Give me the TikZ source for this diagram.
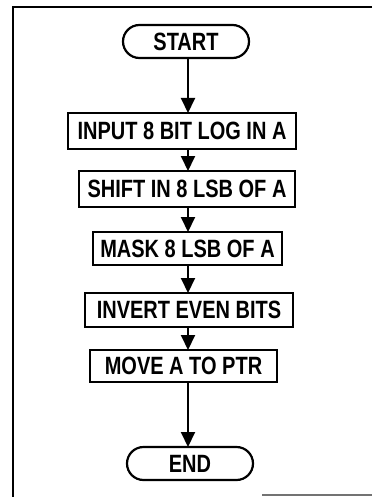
\documentclass[tikz,border=0pt]{standalone}
\usepackage{fontspec}
\setmainfont{Liberation Sans}
\newfontfamily\flowfont[FakeStretch=0.8]{Liberation Sans Bold}
\usetikzlibrary{arrows.meta,shapes.misc}
\begin{document}
\begin{tikzpicture}[x=1pt,y=-1pt,
  every node/.style={inner sep=0pt,outer sep=0pt,font=\flowfont\fontsize{25}{25}\selectfont},
  proc/.style={draw,line width=2.2pt,rectangle},
  term/.style={draw,line width=2.2pt,rounded rectangle,minimum width=126pt,minimum height=33pt},
  arr/.style={line width=2pt,-{Triangle[length=15pt,width=14pt]}},
  frame/.style={line width=2pt}]
\useasboundingbox (0,0) rectangle (372,497);
\draw[frame] (372,7) -- (13,7) -- (13,497);
\draw[frame,black!55] (262,495) -- (372,495);
\node[term] (start) at (186,41.5) {START};
\node[proc,minimum width=228pt,minimum height=36pt] (input) at (182,131) {INPUT 8 BIT LOG IN A};
\node[proc,minimum width=216pt,minimum height=36pt] (shift) at (187,189) {SHIFT IN 8 LSB OF A};
\node[proc,minimum width=189pt,minimum height=33pt] (mask) at (187.5,248.5) {MASK 8 LSB OF A};
\node[proc,minimum width=208pt,minimum height=34pt] (invert) at (189,310) {INVERT EVEN BITS};
\node[proc,minimum width=187pt,minimum height=32pt] (move) at (183.5,366) {MOVE A TO PTR};
\node[term] (end) at (190,463.5) {END};
\coordinate (ax) at (188,0);
\draw[arr] (start.south -| ax) -- (input.north -| ax);
\draw[arr] (input.south -| ax) -- (shift.north -| ax);
\draw[arr] (shift.south -| ax) -- (mask.north -| ax);
\draw[arr] (mask.south -| ax) -- (invert.north -| ax);
\draw[arr] (invert.south -| ax) -- (move.north -| ax);
\draw[arr] (move.south -| ax) -- (end.north -| ax);
\end{tikzpicture}
\end{document}
